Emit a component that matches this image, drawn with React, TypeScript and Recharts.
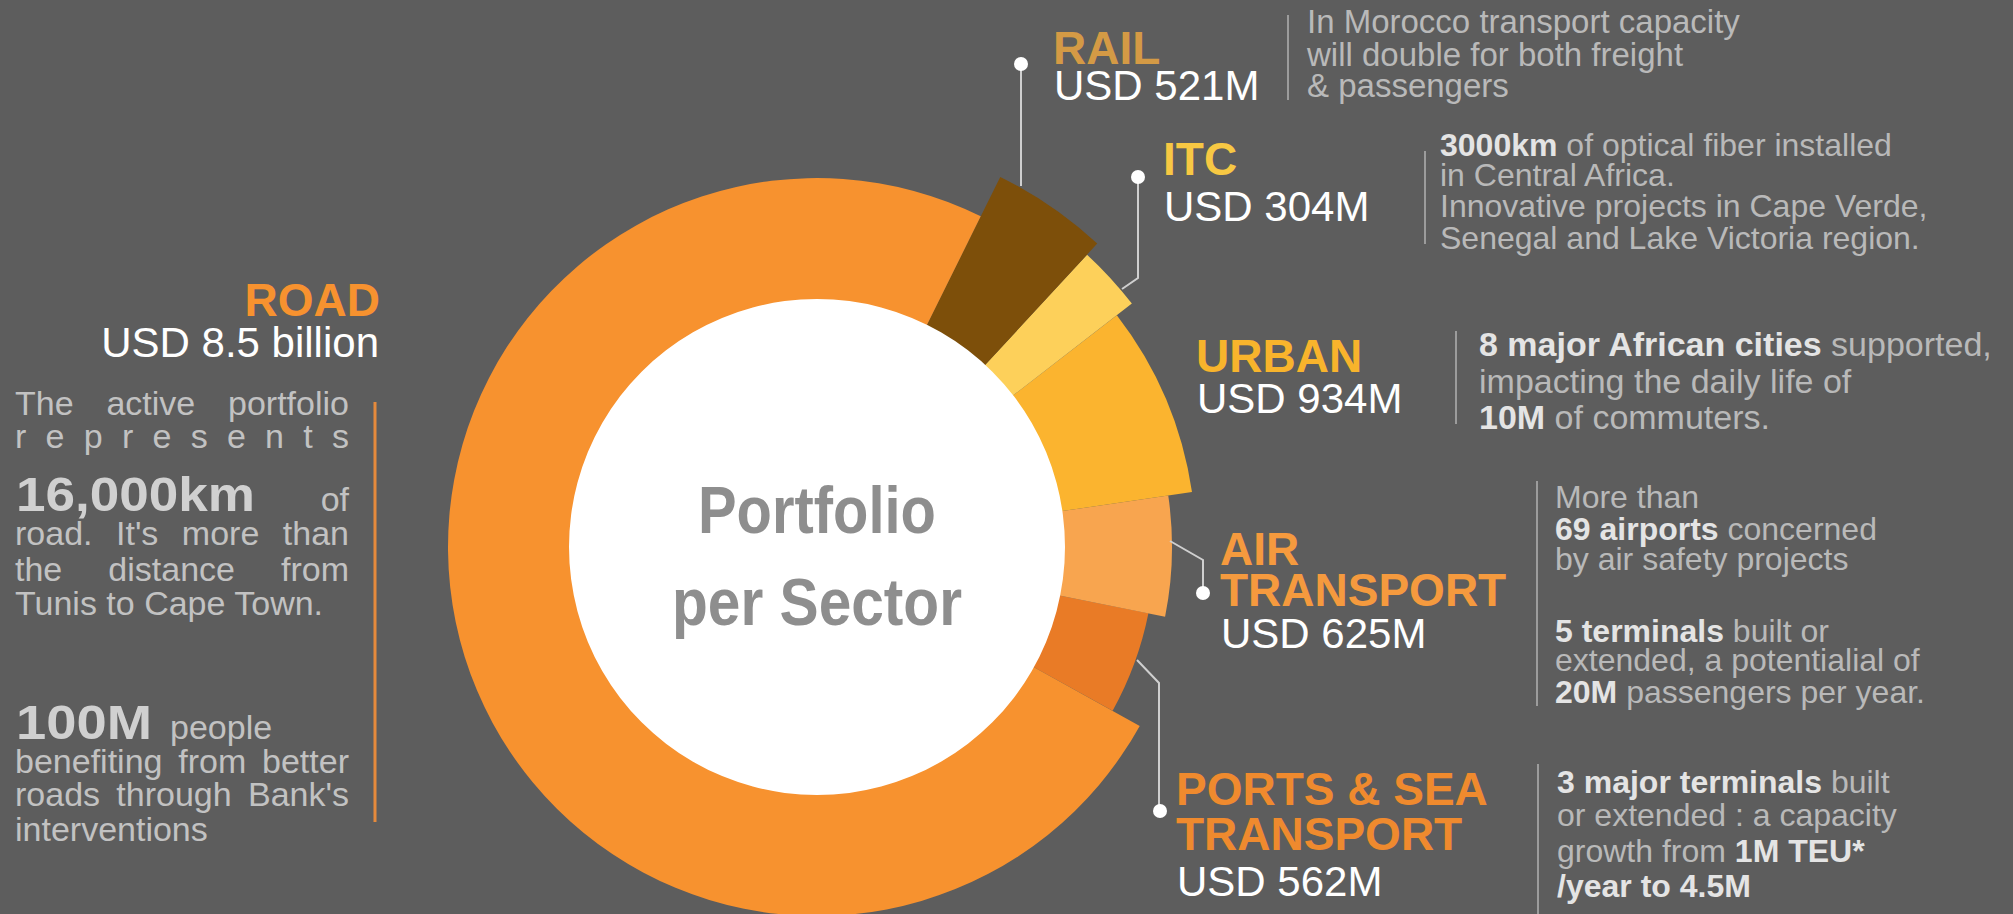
import { PieChart, Pie, Cell } from "recharts";

// sector order follows the ring counter-clockwise, starting below the 3 o'clock line
const sectors = ["Ports & Sea Transport", "Air Transport", "Urban", "ITC", "Rail", "Road"];
const amountsUsdM = [562, 625, 934, 304, 521, 8500];

const colors = ["#e97b26", "#f8a54f", "#fbb42f", "#fdd05a", "#7d4f0a", "#f7922f"];
const outerRadii = [338, 355, 379, 398, 413, 369];

const data = sectors.map((name, i) => ({ name, value: amountsUsdM[i] }));
const hole = [{ name: "center", value: 1 }];

const CX = 817;
const CY = 547;
const INNER = 248;

const FONT = "'Liberation Sans', Arial, Helvetica, sans-serif";
const DESC = "#b9b9b9";
const DESC_BOLD = "#e4e4e4";

type Seg = { t: string; b?: boolean };

// right-hand description blocks
const notes: { x: number; size: number; ys: number[]; lines: Seg[][] }[] = [
  {
    x: 1307,
    size: 33,
    ys: [33, 66, 97],
    lines: [
      [{ t: "In Morocco transport capacity" }],
      [{ t: "will double for both freight" }],
      [{ t: "& passengers" }],
    ],
  },
  {
    x: 1440,
    size: 32,
    ys: [156, 186, 217, 249],
    lines: [
      [{ t: "3000km", b: true }, { t: " of optical fiber installed" }],
      [{ t: "in Central Africa." }],
      [{ t: "Innovative projects in Cape Verde," }],
      [{ t: "Senegal and Lake Victoria region." }],
    ],
  },
  {
    x: 1479,
    size: 34,
    ys: [356, 393, 429],
    lines: [
      [{ t: "8 major African cities", b: true }, { t: " supported," }],
      [{ t: "impacting the daily life of" }],
      [{ t: "10M", b: true }, { t: " of commuters." }],
    ],
  },
  {
    x: 1555,
    size: 32,
    ys: [508, 540, 570, 642, 671, 703],
    lines: [
      [{ t: "More than" }],
      [{ t: "69 airports", b: true }, { t: " concerned" }],
      [{ t: "by air safety projects" }],
      [{ t: "5 terminals", b: true }, { t: " built or" }],
      [{ t: "extended, a potentialial of" }],
      [{ t: "20M", b: true }, { t: " passengers per year." }],
    ],
  },
  {
    x: 1557,
    size: 32,
    ys: [793, 826, 862, 897],
    lines: [
      [{ t: "3 major terminals", b: true }, { t: " built" }],
      [{ t: "or extended : a capacity" }],
      [{ t: "growth from " }, { t: "1M TEU*", b: true }],
      [{ t: "/year to 4.5M", b: true }],
    ],
  },
];

const separators = [
  [1288, 15, 100],
  [1425, 151, 244],
  [1456, 331, 424],
  [1537, 481, 706],
  [1538, 764, 914],
];

const titles: { x: number; name: string[]; ys: number[]; amount: string; ay: number; color: string }[] = [
  { x: 1053, name: ["RAIL"], ys: [64], amount: "USD 521M", ay: 100, color: "#d49a45" },
  { x: 1163, name: ["ITC"], ys: [175], amount: "USD 304M", ay: 221, color: "#f7c843" },
  { x: 1196, name: ["URBAN"], ys: [372], amount: "USD 934M", ay: 413, color: "#f8b42c" },
  { x: 1220, name: ["AIR", "TRANSPORT"], ys: [565, 606], amount: "USD 625M", ay: 648, color: "#f59a3e" },
  { x: 1176, name: ["PORTS & SEA", "TRANSPORT"], ys: [805, 850], amount: "USD 562M", ay: 896, color: "#ef8a2e" },
];

const leaders = [
  { pts: "1021,64 1021,186", dot: [1021, 64] },
  { pts: "1138,177 1138,278 1122,289", dot: [1138, 177] },
  { pts: "1170,541 1203,560 1203,593", dot: [1203, 593] },
  { pts: "1137,660 1159,683 1159,811", dot: [1160, 811] },
];

// justified lines of the road paragraph (word spacing stretched)
const roadLines: [string, number][] = [
  ["The active portfolio", 415],
  ["road. It's more than", 545],
  ["the distance from", 581],
  ["benefiting from better", 773],
  ["roads through Bank's", 806],
];

function Overlay() {
  return (
    <svg
      width={2013}
      height={914}
      style={{ position: "absolute", left: 0, top: 0, pointerEvents: "none" }}
      fontFamily={FONT}
    >
      {/* center title */}
      <text x={CX} y={533} textAnchor="middle" fontSize={66} fontWeight={700} fill="#8e8e8e" textLength={238} lengthAdjust="spacingAndGlyphs">
        Portfolio
      </text>
      <text x={CX} y={625} textAnchor="middle" fontSize={66} fontWeight={700} fill="#8e8e8e" textLength={290} lengthAdjust="spacingAndGlyphs">
        per Sector
      </text>

      {leaders.map((l, i) => (
        <g key={i}>
          <polyline points={l.pts} fill="none" stroke="#cfcfcf" strokeWidth={2} />
          <circle cx={l.dot[0]} cy={l.dot[1]} r={7} fill="#ffffff" />
        </g>
      ))}

      {separators.map(([x, y1, y2], i) => (
        <line key={i} x1={x} x2={x} y1={y1} y2={y2} stroke="#9c9c9c" strokeWidth={2} />
      ))}

      {titles.map((s) => (
        <g key={s.amount}>
          {s.name.map((n, k) => (
            <text key={n} x={s.x} y={s.ys[k]} fontSize={46} fontWeight={700} fill={s.color}>
              {n}
            </text>
          ))}
          <text x={s.x + 1} y={s.ay} fontSize={42} fill="#ffffff">
            {s.amount}
          </text>
        </g>
      ))}

      {notes.map((n, i) =>
        n.lines.map((line, k) => (
          <text key={i + "-" + k} x={n.x} y={n.ys[k]} fontSize={n.size}>
            {line.map((s, j) => (
              <tspan key={j} fontWeight={s.b ? 700 : 400} fill={s.b ? DESC_BOLD : DESC}>
                {s.t}
              </tspan>
            ))}
          </text>
        ))
      )}

      {/* road block on the left */}
      <text x={380} y={316} textAnchor="end" fontSize={46} fontWeight={700} fill="#f7922f">
        ROAD
      </text>
      <text x={379} y={357} textAnchor="end" fontSize={42} fill="#ffffff">
        USD 8.5 billion
      </text>
      <line x1={375} x2={375} y1={402} y2={822} stroke="#e58a3c" strokeWidth={3} />
      <g fontSize={34} fill="#c2c2c2">
        <text x={15} y={448} textLength={334} lengthAdjust="spacing">represents</text>
        <text x={16} y={511} fontSize={48} fontWeight={700} fill="#d0d0d0" textLength={239} lengthAdjust="spacingAndGlyphs">
          16,000km
        </text>
        <text x={349} y={511} textAnchor="end">of</text>
        <text x={15} y={615}>Tunis to Cape Town.</text>
        <text x={16} y={739} fontSize={48} fontWeight={700} fill="#d0d0d0" textLength={136} lengthAdjust="spacingAndGlyphs">
          100M
        </text>
        <text x={170} y={739}>people</text>
        <text x={15} y={841}>interventions</text>
      </g>
    </svg>
  );
}

export default function App() {
  return (
    <div
      style={{
        position: "absolute",
        left: 0,
        top: 0,
        width: 2013,
        height: 914,
        background: "#5d5d5d",
        overflow: "hidden",
      }}
    >
      <div style={{ position: "absolute", left: 0, top: 0 }}>
        <PieChart width={2013} height={914} margin={{ top: 0, right: 0, bottom: 0, left: 0 }}>
          {sectors.map((name, i) => (
            <Pie
              key={name}
              data={data}
              dataKey="value"
              nameKey="name"
              cx={CX}
              cy={CY}
              innerRadius={INNER - 2}
              outerRadius={outerRadii[i]}
              startAngle={-29}
              endAngle={331}
              stroke="none"
              isAnimationActive={false}
            >
              {data.map((d, j) => (
                <Cell key={d.name} fill={j === i ? colors[i] : "transparent"} />
              ))}
            </Pie>
          ))}
          <Pie
            data={hole}
            dataKey="value"
            cx={CX}
            cy={CY}
            innerRadius={0}
            outerRadius={INNER}
            fill="#ffffff"
            stroke="none"
            isAnimationActive={false}
          />
        </PieChart>
      </div>
      <Overlay />
      {roadLines.map(([t, base]) => (
        <div
          key={t}
          style={{
            position: "absolute",
            left: 15,
            top: base - 29,
            width: 334,
            fontFamily: FONT,
            fontSize: 34,
            lineHeight: "34px",
            color: "#c2c2c2",
            textAlign: "justify",
            textAlignLast: "justify",
          }}
        >
          {t}
        </div>
      ))}
    </div>
  );
}
